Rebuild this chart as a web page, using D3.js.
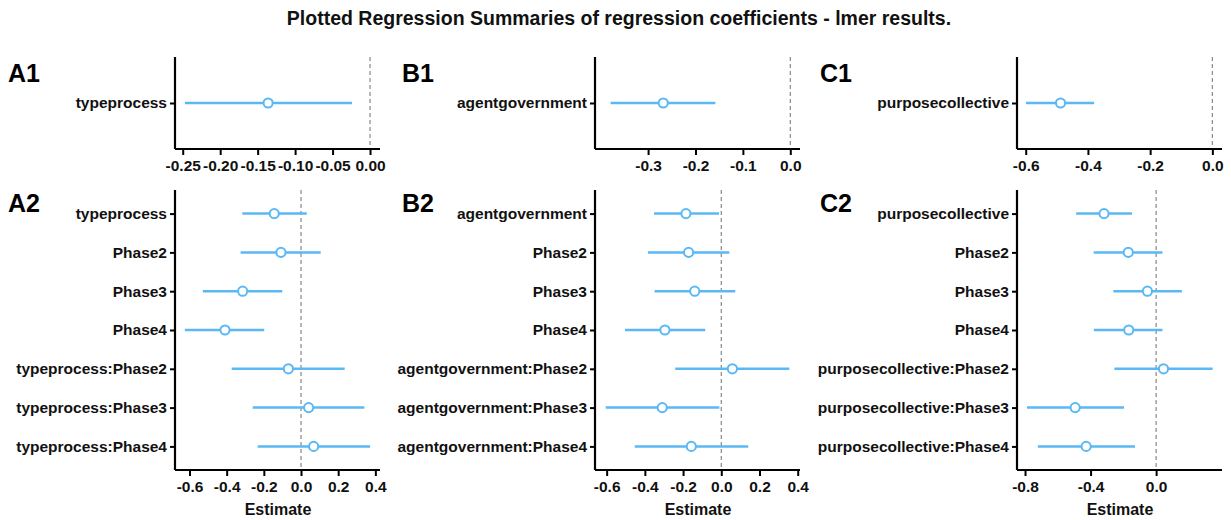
<!DOCTYPE html>
<html>
<head>
<meta charset="utf-8">
<script src="https://cdn.jsdelivr.net/npm/d3@7"></script>
<style>
  html, body { margin: 0; padding: 0; background: #fff; }
  svg { display: block; font-family: "Liberation Sans", Arial, Helvetica, sans-serif; }
</style>
</head>
<body>
<svg id="chart" width="1231" height="520"></svg>
<script>
// ---- Model coefficients (estimate with 95% CI) ----
const titleText = "Plotted Regression Summaries of regression coefficients - lmer results.";

// Row 1: main-effect-only models
const termsA1 = ["typeprocess"];
const estA1 = [-0.136];
const lowA1 = [-0.247];
const highA1 = [-0.024];

const termsB1 = ["agentgovernment"];
const estB1 = [-0.268];
const lowB1 = [-0.379];
const highB1 = [-0.158];

const termsC1 = ["purposecollective"];
const estC1 = [-0.488];
const lowC1 = [-0.599];
const highC1 = [-0.380];

// Row 2: models with Phase interactions
const termsA2 = ["typeprocess", "Phase2", "Phase3", "Phase4",
  "typeprocess:Phase2", "typeprocess:Phase3", "typeprocess:Phase4"];
const estA2 = [-0.144, -0.108, -0.314, -0.409, -0.068, 0.041, 0.068];
const lowA2 = [-0.316, -0.325, -0.528, -0.625, -0.373, -0.260, -0.233];
const highA2 = [0.031, 0.106, -0.101, -0.198, 0.235, 0.341, 0.372];

const termsB2 = ["agentgovernment", "Phase2", "Phase3", "Phase4",
  "agentgovernment:Phase2", "agentgovernment:Phase3", "agentgovernment:Phase4"];
const estB2 = [-0.185, -0.171, -0.139, -0.295, 0.058, -0.309, -0.157];
const lowB2 = [-0.352, -0.384, -0.349, -0.504, -0.241, -0.605, -0.453];
const highB2 = [-0.012, 0.042, 0.073, -0.084, 0.356, -0.010, 0.141];

const termsC2 = ["purposecollective", "Phase2", "Phase3", "Phase4",
  "purposecollective:Phase2", "purposecollective:Phase3", "purposecollective:Phase4"];
const estC2 = [-0.318, -0.170, -0.053, -0.167, 0.045, -0.494, -0.427];
const lowC2 = [-0.488, -0.381, -0.261, -0.380, -0.255, -0.788, -0.722];
const highC2 = [-0.147, 0.039, 0.157, 0.039, 0.345, -0.196, -0.129];

// Axis ranges and tick values
const domainA1 = [-0.2603, 0.0133], ticksA1 = [-0.25, -0.20, -0.15, -0.10, -0.05, 0.00];
const domainB1 = [-0.412, 0.0205], ticksB1 = [-0.3, -0.2, -0.1, 0.0];
const domainC1 = [-0.628, 0.031], ticksC1 = [-0.6, -0.4, -0.2, 0.0];
const domainA2 = [-0.678, 0.425], ticksA2 = [-0.6, -0.4, -0.2, 0.0, 0.2, 0.4];
const domainB2 = [-0.661, 0.412], ticksB2 = [-0.6, -0.4, -0.2, 0.0, 0.2, 0.4];
const domainC2 = [-0.849, 0.402], ticksC2 = [-0.8, -0.4, 0.0];

const panelLabels = ["A1", "B1", "C1", "A2", "B2", "C2"];

// ---- Drawing ----
const svg = d3.select("#chart");
const blue = "#5ab9f4";
const locale = d3.formatLocale({ decimal: ".", thousands: ",", grouping: [3], currency: ["", ""], minus: "-" });

svg.append("text")
  .attr("x", 619).attr("y", 25)
  .attr("text-anchor", "middle")
  .attr("font-size", 19.5).attr("font-weight", "bold")
  .attr("fill", "#111")
  .text(titleText);

const columns = [
  { left: 175, right: 380, labelX: 8 },
  { left: 595, right: 800, labelX: 402 },
  { left: 1017, right: 1222, labelX: 820 }
];
const rows = [
  { top: 57, bottom: 149, padding: 0.5, labelY: 82, xlabel: false },
  { top: 190, bottom: 470, padding: 0.608, labelY: 212, xlabel: true }
];

const panels = [
  { col: 0, row: 0, terms: termsA1, est: estA1, low: lowA1, high: highA1, domain: domainA1, ticks: ticksA1, fmt: ".2f" },
  { col: 1, row: 0, terms: termsB1, est: estB1, low: lowB1, high: highB1, domain: domainB1, ticks: ticksB1, fmt: ".1f" },
  { col: 2, row: 0, terms: termsC1, est: estC1, low: lowC1, high: highC1, domain: domainC1, ticks: ticksC1, fmt: ".1f" },
  { col: 0, row: 1, terms: termsA2, est: estA2, low: lowA2, high: highA2, domain: domainA2, ticks: ticksA2, fmt: ".1f" },
  { col: 1, row: 1, terms: termsB2, est: estB2, low: lowB2, high: highB2, domain: domainB2, ticks: ticksB2, fmt: ".1f" },
  { col: 2, row: 1, terms: termsC2, est: estC2, low: lowC2, high: highC2, domain: domainC2, ticks: ticksC2, fmt: ".1f" }
];

panels.forEach((p, i) => {
  const c = columns[p.col], r = rows[p.row];
  const g = svg.append("g");

  const x = d3.scaleLinear().domain(p.domain).range([c.left, c.right]);
  const y = d3.scalePoint().domain(p.terms).range([r.top, r.bottom]).padding(r.padding);

  // panel tag
  g.append("text")
    .attr("x", c.labelX).attr("y", r.labelY)
    .attr("font-size", 25).attr("font-weight", "bold").attr("fill", "#000")
    .text(panelLabels[i]);

  // zero reference line
  g.append("line")
    .attr("x1", x(0)).attr("x2", x(0))
    .attr("y1", r.top).attr("y2", r.bottom)
    .attr("stroke", "#888").attr("stroke-width", 1.2)
    .attr("stroke-dasharray", "4,3");

  // confidence intervals
  g.selectAll(".ci").data(p.terms).join("line")
    .attr("class", "ci")
    .attr("x1", (d, j) => x(p.low[j])).attr("x2", (d, j) => x(p.high[j]))
    .attr("y1", d => y(d)).attr("y2", d => y(d))
    .attr("stroke", blue).attr("stroke-width", 2.5);

  // point estimates
  g.selectAll(".pt").data(p.terms).join("circle")
    .attr("class", "pt")
    .attr("cx", (d, j) => x(p.est[j])).attr("cy", d => y(d))
    .attr("r", 4.6)
    .attr("fill", "#fff").attr("stroke", blue).attr("stroke-width", 2);

  // x axis
  const xAxis = d3.axisBottom(x)
    .tickValues(p.ticks)
    .tickFormat(locale.format(p.fmt))
    .tickSizeInner(6).tickSizeOuter(0).tickPadding(5);
  const gx = g.append("g").attr("transform", `translate(0,${r.bottom})`).call(xAxis);

  // y axis
  const yAxis = d3.axisLeft(y).tickSizeInner(5).tickSizeOuter(0).tickPadding(3);
  const gy = g.append("g").attr("transform", `translate(${c.left},0)`).call(yAxis);
  gy.select(".domain").attr("d", `M0,${r.top}V${r.bottom}`);

  [gx, gy].forEach(ax => {
    ax.select(".domain").attr("stroke", "#000").attr("stroke-width", 2.2);
    ax.selectAll(".tick line").attr("stroke", "#000").attr("stroke-width", 2);
    ax.selectAll(".tick text")
      .attr("fill", "#111")
      .attr("font-size", 15.5)
      .attr("font-weight", "bold")
      .attr("font-family", "'Liberation Sans', Arial, Helvetica, sans-serif");
  });
  gx.select(".domain").attr("d", `M${c.left},0H${c.right}`);

  if (r.xlabel) {
    g.append("text")
      .attr("x", (c.left + c.right) / 2 + 0.5).attr("y", 515)
      .attr("text-anchor", "middle")
      .attr("font-size", 16).attr("font-weight", "bold").attr("fill", "#111")
      .text("Estimate");
  }
});
</script>
</body>
</html>
